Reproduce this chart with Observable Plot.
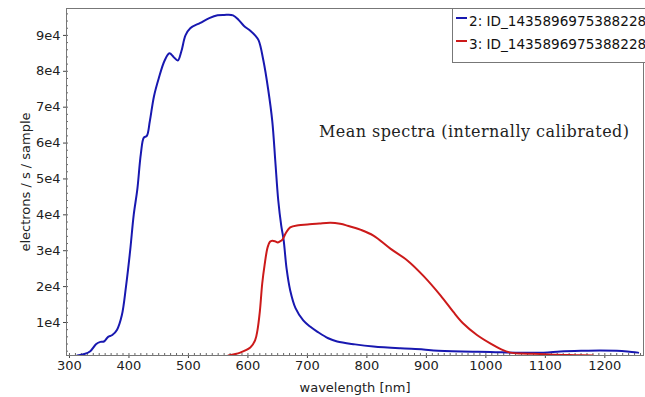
<!DOCTYPE html>
<html>
<head>
<meta charset="utf-8">
<script src="https://cdn.jsdelivr.net/npm/d3@7"></script>
<script src="https://cdn.jsdelivr.net/npm/@observablehq/plot@0.6"></script>
<style>
  body { margin: 0; background: #fff; }
  #wrap { position: relative; width: 645px; height: 397px; overflow: hidden; }
  #legend { position: absolute; left: 452px; top: 8px; width: 200px; height: 53px;
    border: 1px solid #777; background: #fff; font-family: "DejaVu Sans", sans-serif; font-size: 13.6px; color: #111; }
  .row { position: absolute; left: 3px; white-space: nowrap; }
  .sw { display: inline-block; width: 11px; height: 2px; vertical-align: middle; margin-right: 2px; position: relative; top: -4px; }
</style>
</head>
<body>
<div id="wrap"></div>
<script>
// Series 2 (blue): [wavelength nm, electrons/s/sample]
const blueWave = [313,325,335,345,352,358,365,372,380,388,395,402,408,414,420,425,430,435,442,450,460,468,475,482,488,495,503,520,535,549,560,575,585,593,604,612,618,626,634,641,646,651,656,660,665,671,680,693,705,717,735,750,780,811,856,895,912,960,1008,1050,1097,1125,1160,1192,1220,1238,1256];
const blueVal  = [800,1200,2000,4000,4600,4700,6000,6500,8000,12000,20000,30000,40000,47000,57000,61500,62000,66000,73000,78000,83000,85000,84000,83000,85500,90000,92000,93500,94800,95600,95700,95600,94200,92700,91300,90000,88600,83000,75000,66000,55000,44000,37000,33000,25000,19000,14000,10600,8800,7400,5600,4700,3900,3300,2800,2500,2200,1900,1800,1600,1600,1900,2100,2200,2100,1900,1600];
// Series 3 (red)
const redWave = [567,587,604,612,616,620,624,628,633,637,641,646,650,654,658,664,671,685,700,720,739,755,767,790,811,840,868,895,924,945,962,985,1008,1025,1041,1060,1080,1120,1150,1180];
const redVal  = [800,1600,3000,5000,7800,13000,20800,26000,30900,32500,32800,32600,32300,32600,33100,35000,36500,37100,37300,37600,37800,37500,37000,35800,34200,30500,27300,23000,17500,13000,9700,6500,4100,2600,1600,1350,1300,1000,900,800];

const seriesNames = ["2: ID_1435896975388228", "3: ID_1435896975388228"];
const seriesColors = ["#1818b0", "#cc1a1a"];
const xTicks = [300,400,500,600,700,800,900,1000,1100,1200];
const xMinorTicks = d3.range(300, 1270, 10);
const yTicks = [10000,20000,30000,40000,50000,60000,70000,80000,90000];
const yMinorTicks = d3.range(2000, 97000, 2000);
const xDomain = [295, 1265];
const yDomain = [800, 97500];
const title = "Mean spectra (internally calibrated)";
const xLabel = "wavelength [nm]";
const yLabel = "electrons / s / sample";

const data = [
  ...blueWave.map((w, i) => ({w, v: blueVal[i], s: seriesNames[0]})),
  ...redWave.map((w, i) => ({w, v: redVal[i], s: seriesNames[1]}))
];

const plot = Plot.plot({
  width: 645,
  height: 397,
  marginLeft: 66,
  marginRight: 2,
  marginTop: 8,
  marginBottom: 42,
  style: { fontFamily: "DejaVu Sans, sans-serif", fontSize: "12.5px", color: "#222", background: "#fff" },
  x: { domain: xDomain },
  y: { domain: yDomain },
  color: { domain: seriesNames, range: seriesColors },
  marks: [
    Plot.axisX(xMinorTicks, { tickSize: -2, tickFormat: null, stroke: "#666", label: null, text: null }),
    Plot.axisX(xTicks, { tickSize: 3, tickPadding: 2, tickFormat: d => String(d), stroke: "#444", fontSize: 13,
      label: xLabel, labelAnchor: "center", labelArrow: "none", labelOffset: 36 }),
    Plot.axisY(yMinorTicks, { tickSize: -2, tickFormat: null, stroke: "#666", label: null, text: null }),
    Plot.axisY(yTicks, { tickSize: 3, tickPadding: 3, tickFormat: d => (d / 1e4) + "e4", stroke: "#444", fontSize: 13,
      label: yLabel, labelAnchor: "center", labelArrow: "none", labelOffset: 46 }),
    Plot.line(data, { x: "w", y: "v", z: "s", stroke: "s", strokeWidth: 2, curve: "catmull-rom", clip: true }),
    Plot.frame({ stroke: "#777" }),
    Plot.text([title], { frameAnchor: "top-right", dx: -14, dy: 117, textAnchor: "end",
      fontFamily: "DejaVu Serif, serif", fontSize: 16, fill: "#222" })
  ]
});

d3.select(plot).selectAll("text").filter(function () { return this.textContent === title; })
  .style("letter-spacing", "0.45px");

const wrap = document.getElementById("wrap");
wrap.appendChild(plot);

const legend = document.createElement("div");
legend.id = "legend";
seriesNames.forEach((name, i) => {
  const row = document.createElement("div");
  row.className = "row";
  row.style.top = (4 + i * 23) + "px";
  const sw = document.createElement("span");
  sw.className = "sw";
  sw.style.background = seriesColors[i];
  row.appendChild(sw);
  row.appendChild(document.createTextNode(name));
  legend.appendChild(row);
});
wrap.appendChild(legend);
</script>
</body>
</html>
